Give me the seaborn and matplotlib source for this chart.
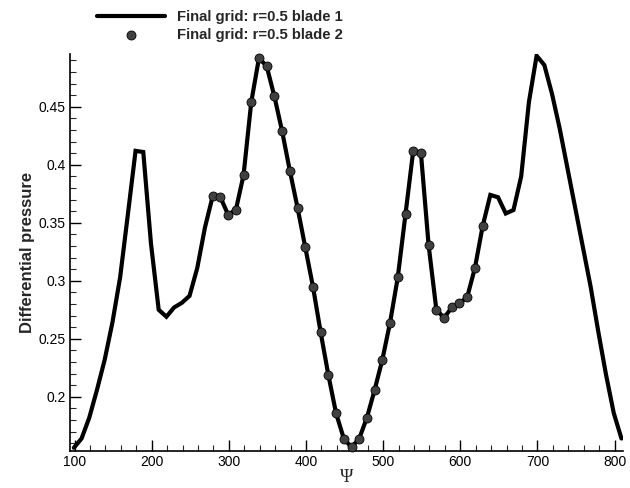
import numpy as np
import matplotlib
matplotlib.use('Agg')
import matplotlib.pyplot as plt
from matplotlib.ticker import MultipleLocator
import seaborn as sns

# blade 1: full Psi range
psi_blade1 = np.arange(99, 810, 10)
dp_blade1 = [0.156, 0.164, 0.182, 0.206, 0.232, 0.264, 0.303, 0.357, 0.412, 0.411,
             0.332, 0.275, 0.269, 0.277, 0.281, 0.287, 0.311, 0.346,
             0.373, 0.372, 0.357, 0.361, 0.391, 0.454, 0.492, 0.485, 0.459, 0.429,
             0.395, 0.363, 0.329, 0.295, 0.2555, 0.2187, 0.1857, 0.164, 0.1564, 0.164,
             0.182, 0.206, 0.232, 0.264, 0.303, 0.3575, 0.412, 0.410, 0.3305, 0.275,
             0.268, 0.277, 0.2805, 0.286, 0.311, 0.347,
             0.374, 0.372, 0.358, 0.361, 0.390, 0.454, 0.494, 0.486, 0.461, 0.431,
             0.397, 0.363, 0.329, 0.295, 0.256, 0.219, 0.186, 0.164]

# blade 2: markers only on the middle part
psi_blade2 = np.arange(279, 630, 10)
dp_blade2 = [0.373, 0.372, 0.357, 0.361, 0.391, 0.454, 0.492, 0.485, 0.459, 0.429,
             0.395, 0.363, 0.329, 0.295, 0.2555, 0.2187, 0.1857, 0.164, 0.1564, 0.164,
             0.182, 0.206, 0.232, 0.264, 0.303, 0.3575, 0.412, 0.410, 0.3305, 0.275,
             0.268, 0.277, 0.2805, 0.286, 0.311, 0.347]

sns.set_style('ticks')
plt.rcParams['font.family'] = ['Liberation Sans', 'DejaVu Sans']

fig = plt.figure(figsize=(6.3, 4.88), dpi=100)
ax = fig.add_axes([70 / 630, 1 - 450.7 / 488, 553 / 630, 396.7 / 488])

sns.lineplot(x=psi_blade1, y=dp_blade1, ax=ax, color='black', linewidth=3,
             errorbar=None, label='Final grid: r=0.5 blade 1')
ax.lines[0].set_solid_joinstyle('miter')
sns.scatterplot(x=psi_blade2, y=dp_blade2, ax=ax, color='#404040', edgecolor='black',
                linewidth=0.6, s=42, clip_on=False, zorder=3,
                label='Final grid: r=0.5 blade 2')

ax.set_xlim(94, 811)
ax.set_ylim(0.1535, 0.4955)
ax.xaxis.set_major_locator(MultipleLocator(100))
ax.xaxis.set_minor_locator(MultipleLocator(20))
ax.yaxis.set_major_locator(MultipleLocator(0.05))
ax.yaxis.set_minor_locator(MultipleLocator(0.01))
ax.yaxis.set_major_formatter(plt.FuncFormatter(lambda v, p: f'{v:g}'))
ax.tick_params(which='major', direction='in', length=8, width=1, labelsize=10,
               colors='black', pad=3)
ax.tick_params(which='minor', direction='in', length=4, width=0.8)
sns.despine(ax=ax)
for s in ['left', 'bottom']:
    ax.spines[s].set_linewidth(1.2)
    ax.spines[s].set_color('black')

ax.set_ylabel('Differential pressure', fontsize=12, fontweight='bold', labelpad=3)
ax.set_xlabel('Ψ', fontsize=13, family=['Liberation Serif', 'DejaVu Serif'], labelpad=0)

leg = ax.legend(loc='upper left', bbox_to_anchor=(97 / 630, 1 - 10 / 488),
                bbox_transform=fig.transFigure, frameon=False, borderpad=0,
                borderaxespad=0, handlelength=4.6, handletextpad=0.8,
                labelspacing=0.25, prop={'weight': 'bold', 'size': 10.7})

fig.savefig('out.png', dpi=100)
